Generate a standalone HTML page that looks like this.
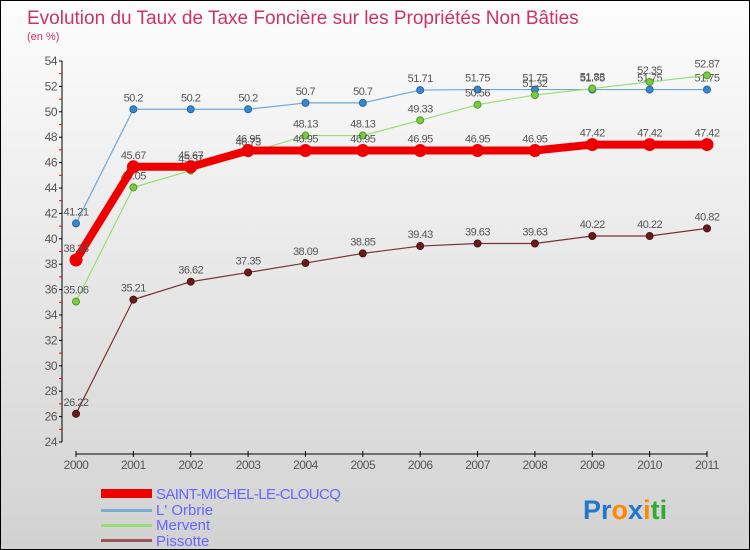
<!DOCTYPE html>
<html><head><meta charset="utf-8"><style>
body{margin:0}
#c{position:relative;width:750px;height:550px;box-sizing:border-box;border:1px solid #000;background:linear-gradient(#fdfdfd,#d2d2d2);font-family:"Liberation Sans",sans-serif;overflow:hidden}
</style></head><body>
<div id="c">
<svg id="s" width="750" height="550" style="position:absolute;left:0;top:0">
<text x="26" y="23" font-size="19" fill="#cc3366">Evolution du Taux de Taxe Foncière sur les Propriétés Non Bâties</text>
<text x="26" y="39" font-size="11" fill="#cc3366">(en %)</text>
<g id="axes"></g><g id="series"></g>
<g>
<rect x="100" y="488" width="51" height="9" fill="#ee0000"/>
<text x="155" y="498" font-size="15" fill="#6666ff" letter-spacing="-0.6">SAINT-MICHEL-LE-CLOUCQ</text>
<rect x="100" y="508" width="51" height="3" fill="#7aaed4"/>
<text x="155" y="514" font-size="15" fill="#6666ff">L' Orbrie</text>
<rect x="100" y="523" width="51" height="3" fill="#99dd77"/>
<text x="155" y="529" font-size="15" fill="#6666ff">Mervent</text>
<rect x="100" y="538" width="51" height="3" fill="#995555"/>
<text x="155" y="545" font-size="15" fill="#6666ff">Pissotte</text>
</g>
<text x="582" y="518" font-size="27" font-weight="bold"><tspan fill="#2277cc">Pr</tspan><tspan fill="#ff8800">o</tspan><tspan fill="#2277cc">x</tspan><tspan fill="#ff8800">i</tspan><tspan fill="#33aa33">ti</tspan></text>
</svg></div>
<script>
const years=[2000,2001,2002,2003,2004,2005,2006,2007,2008,2009,2010,2011];
const yTicks=[24,26,28,30,32,34,36,38,40,42,44,46,48,50,52,54];
const saintMichel=[38.33,45.67,45.67,46.95,46.95,46.95,46.95,46.95,46.95,47.42,47.42,47.42];
const orbrie=[41.21,50.2,50.2,50.2,50.7,50.7,51.71,51.75,51.75,51.75,51.75,51.75];
const mervent=[35.06,44.05,45.37,46.73,48.13,48.13,49.33,50.56,51.32,51.83,52.35,52.87];
const pissotte=[26.22,35.21,36.62,37.35,38.09,38.85,39.43,39.63,39.63,40.22,40.22,40.82];
const NS='http://www.w3.org/2000/svg';
const X=i=>75+i*(706-75)/11;
const Y=v=>441-(v-24)*(441-60)/30;
function mk(t,a,p){const e=document.createElementNS(NS,t);for(const k in a)e.setAttribute(k,a[k]);p.appendChild(e);return e;}
const ax=document.getElementById('axes');
let l=mk('line',{x1:61,y1:60,x2:61,y2:441,stroke:'#000'},ax);


l=mk('line',{x1:75,y1:453,x2:706,y2:453,stroke:'#000'},ax);


yTicks.forEach((v,i)=>{
 mk('line',{x1:58,y1:Y(v),x2:61,y2:Y(v),stroke:'#000'},ax);
 if(i<yTicks.length-1)mk('line',{x1:58,y1:Y(v+1),x2:61,y2:Y(v+1),stroke:'#e00'},ax);
 const t=mk('text',{x:56,y:Y(v)+4,'font-size':12,fill:'#555','text-anchor':'end','letter-spacing':'-0.5'},ax);t.textContent=v;
 
 
});
years.forEach((y,i)=>{
 mk('line',{x1:X(i),y1:450,x2:X(i),y2:456,stroke:'#000'},ax);
 const t=mk('text',{x:X(i),y:468,'font-size':12,fill:'#555','text-anchor':'middle','letter-spacing':'-0.5'},ax);t.textContent=y;
 
 
});
const sg=document.getElementById('series');
function draw(vals,name,color,w,r,dot,dotStroke){
 const g=mk('g',{},sg);
 
 
 const pl=mk('polyline',{points:vals.map((v,i)=>X(i)+','+Y(v)).join(' '),fill:'none',stroke:color,'stroke-width':w,'stroke-linejoin':'round'},g);
 
 
 vals.forEach((v,i)=>{
  const c=mk('circle',{cx:X(i),cy:Y(v),r:r,fill:dot,stroke:dotStroke,'stroke-width':1},g);
  
  
  const t=mk('text',{x:X(i),y:Y(v)-8,'font-size':11,fill:'#555','text-anchor':'middle','letter-spacing':'-0.5'},g);t.textContent=v;
  
  
 });
}
draw(pissotte,'pissotte','#773333',1.2,3.5,'#661c1c','#551111');
draw(orbrie,'orbrie','#6fa8d8',1.2,3.5,'#3a88cc','#2266aa');
draw(mervent,'mervent','#99dd77',1.2,3.5,'#77cc44','#559922');
draw(saintMichel,'saint-michel','#ee0000',8,6,'#ee0000','#ee0000');
</script>
</body></html>
